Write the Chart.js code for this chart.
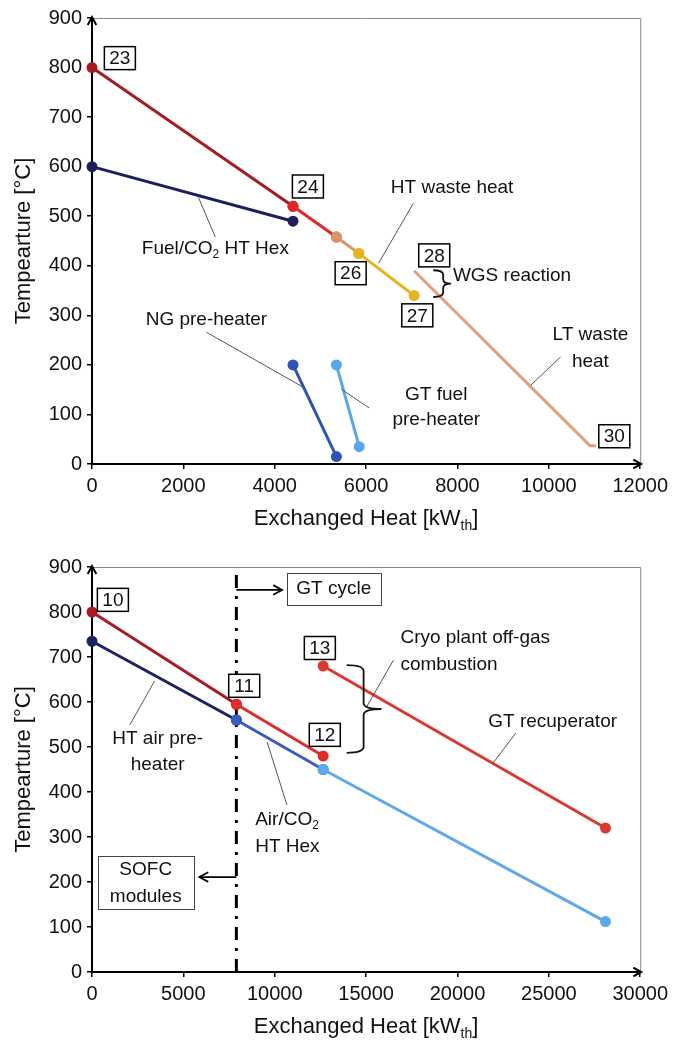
<!DOCTYPE html>
<html>
<head>
<meta charset="utf-8">
<script src="https://cdn.jsdelivr.net/npm/chart.js@4.4.0/dist/chart.umd.min.js"></script>
<style>
  html, body { margin: 0; padding: 0; background: #fff; }
  #wrap { position: relative; width: 673px; height: 1042px; }
  canvas { position: absolute; left: 0; }
  #topChart { top: 0; }
  #botChart { top: 530px; }
</style>
</head>
<body>
<div id="wrap">
  <canvas id="topChart" width="673" height="530"></canvas>
  <canvas id="botChart" width="673" height="512"></canvas>
</div>
<script>
const FONT = "'Liberation Sans', Arial, sans-serif";

// ===== tick labels =====
const tempTicks = [0, 100, 200, 300, 400, 500, 600, 700, 800, 900];
const topHeatTicks = [0, 2000, 4000, 6000, 8000, 10000, 12000];
const botHeatTicks = [0, 5000, 10000, 15000, 20000, 25000, 30000];

// ===== top chart: fuel side streams (heat kWth, temperature °C) =====
// hot stream 23 -> 24 -> 25 -> 26 -> 27
const hotFuelHeat = [0, 4400, 5350, 5840, 7050];
const hotFuelTemp = [800, 520, 458, 425, 340];
const hotFuelColors = ['#a61c20', '#e3262b', '#d8956b', '#e8b220'];
// Fuel/CO2 HT Hex cold side
const fuelHexHeat = [0, 4400];
const fuelHexTemp = [600, 490];
// LT waste heat 28 -> 30
const ltWasteHeat = [7050, 10900, 11030];
const ltWasteTemp = [390, 37, 37];
// NG pre-heater
const ngPreHeat = [4400, 5350];
const ngPreTemp = [200, 15];
// GT fuel pre-heater
const gtFuelHeat = [5350, 5850];
const gtFuelTemp = [200, 35];

// ===== bottom chart: air / cathode side =====
// hot stream 10 -> 11 -> 12
const cathodeHeat = [0, 7900, 12650];
const cathodeTemp = [800, 595, 480];
const cathodeColors = ['#a61c20', '#e02b2b'];
// air / CO2 cold stream
const airHeat = [0, 7900, 12650, 28100];
const airTemp = [735, 560, 450, 112];
const airColors = ['#1c2262', '#3a5cc5', '#5ea8ec'];
// GT recuperator 13 ->
const recupHeat = [12650, 28100];
const recupTemp = [680, 320];
// SOFC / GT cycle boundary
const boundaryHeat = [7900, 7900];
const boundaryTemp = [0, 900];

/** ===== annotation layouts (data coordinates) ===== */
const notes = {
    topChart: {
        xTitle: 'Exchanged Heat [kW_{th}]',
        yTitle: 'Tempearture [°C]',
        boxes: [['23', 610, 819], ['24', 4726, 560], ['26', 5662, 385], ['27', 7121, 300], ['28', 7491, 421], ['30', 11433, 56]],
        labels: [
            ['HT waste heat', 7883, 558, 'center'],
            ['Fuel/CO_{2} HT Hex', 2700, 435, 'center'],
            ['WGS reaction', 7900, 379, 'left'],
            ['LT waste', 10910, 260, 'center'], ['heat', 10910, 206, 'center'],
            ['NG pre-heater', 2504, 292, 'center'],
            ['GT fuel', 7535, 139, 'center'], ['pre-heater', 7535, 89, 'center']
        ],
        leaders: [[7034, 526, 6272, 405], [2700, 458, 2330, 538], [10257, 216, 9604, 159], [2504, 266, 4660, 153], [5459, 151, 6069, 113]],
        braces: [[7470, 7687, 7861, 391, 337]],
        arrows: [],
        frames: []
    },
    botChart: {
        xTitle: 'Exchanged Heat [kW_{th}]',
        yTitle: 'Tempearture [°C]',
        boxes: [['10', 1143, 827], ['11', 8330, 636], ['12', 12740, 527], ['13', 12468, 720]],
        labels: [
            ['Cryo plant off-gas', 16878, 742, 'left'], ['combustion', 16878, 682, 'left'],
            ['GT recuperator', 25208, 556, 'center'],
            ['HT air pre-', 3593, 518, 'center'], ['heater', 3593, 460, 'center'],
            ['Air/CO_{2}', 8929, 338, 'left'], ['HT Hex', 8929, 278, 'left'],
            ['GT cycle', 13230, 851, 'center'],
            ['SOFC', 2940, 227, 'center'], ['modules', 2940, 167, 'center']
        ],
        leaders: [[15027, 589, 16497, 693], [23193, 531, 21941, 464], [2069, 549, 3430, 647], [9582, 511, 10671, 371]],
        braces: [[13938, 14864, 15843, 682, 487]],
        arrows: [[7900, 849, 10400, 849], [7900, 211, 5880, 211]],
        // center x, center y, width px, height px
        frames: [[13230, 851, 94, 32], [2940, 198, 96, 53]]
    }
};

function parseRich(str) {
    return str.split(/_\{([^}]*)\}/).map((t, i) => [t, i % 2 == 1]);
}

function drawRich(ctx, str, x, y, size, align) {
    let parts = parseRich(str);
    let subSize = Math.round(size * 0.62);
    let total = 0;
    for (let [t, sub] of parts) {
        ctx.font = `${sub ? subSize : size}px ${FONT}`;
        total += ctx.measureText(t).width;
    }
    let cx = align == 'left' ? x : align == 'right' ? x - total : x - total / 2;
    ctx.textAlign = 'left';
    ctx.textBaseline = 'middle';
    for (let [t, sub] of parts) {
        ctx.font = `${sub ? subSize : size}px ${FONT}`;
        ctx.fillText(t, cx, sub ? y + size * 0.32 : y);
        cx += ctx.measureText(t).width;
    }
}

function chevron(ctx, x, y, dir, len) {
    // open arrow head, dir = angle in radians the tip points to
    ctx.beginPath();
    ctx.moveTo(x - len * Math.cos(dir - 0.5), y - len * Math.sin(dir - 0.5));
    ctx.lineTo(x, y);
    ctx.lineTo(x - len * Math.cos(dir + 0.5), y - len * Math.sin(dir + 0.5));
    ctx.stroke();
}

const sketchPlugin = {
    id: 'sketch',
    afterDraw(chart) {
        let n = notes[chart.canvas.id];
        if (!n) {
            return;
        }
        let { ctx, chartArea } = chart;
        let sx = chart.scales.x, sy = chart.scales.y;
        const P = (x, y) => [sx.getPixelForValue(x), sy.getPixelForValue(y)];
        ctx.save();

        // thin frame on top and right
        ctx.strokeStyle = '#8a8a8a';
        ctx.lineWidth = 1;
        ctx.beginPath();
        ctx.moveTo(chartArea.left, chartArea.top + 0.5);
        ctx.lineTo(chartArea.right + 0.5, chartArea.top + 0.5);
        ctx.lineTo(chartArea.right + 0.5, chartArea.bottom);
        ctx.stroke();

        // axis arrows
        ctx.strokeStyle = '#000';
        ctx.lineWidth = 2;
        chevron(ctx, chartArea.left, chartArea.top - 1, -Math.PI / 2, 9);
        chevron(ctx, chartArea.right + 1, chartArea.bottom, 0, 9);

        // leader lines
        ctx.strokeStyle = '#555';
        ctx.lineWidth = 1;
        for (let [x1, y1, x2, y2] of n.leaders) {
            let a = P(x1, y1), b = P(x2, y2);
            ctx.beginPath();
            ctx.moveTo(a[0], a[1]);
            ctx.lineTo(b[0], b[1]);
            ctx.stroke();
        }

        // curly braces
        ctx.strokeStyle = '#111';
        ctx.lineWidth = 1.8;
        for (let [xl, xs, xt, yt, yb] of n.braces) {
            let [L, T] = P(xl, yt);
            let [S, B] = P(xs, yb);
            let X = sx.getPixelForValue(xt);
            let M = (T + B) / 2;
            let r = Math.min(6, (B - T) / 6);
            ctx.beginPath();
            ctx.moveTo(L, T);
            ctx.quadraticCurveTo(S, T, S, T + r);
            ctx.lineTo(S, M - r);
            ctx.quadraticCurveTo(S, M, X, M);
            ctx.quadraticCurveTo(S, M, S, M + r);
            ctx.lineTo(S, B - r);
            ctx.quadraticCurveTo(S, B, L, B);
            ctx.stroke();
        }

        // arrows
        ctx.strokeStyle = '#000';
        ctx.lineWidth = 1.8;
        for (let [x1, y1, x2, y2] of n.arrows) {
            let a = P(x1, y1), b = P(x2, y2);
            ctx.beginPath();
            ctx.moveTo(a[0], a[1]);
            ctx.lineTo(b[0], b[1]);
            ctx.stroke();
            chevron(ctx, b[0], b[1], Math.atan2(b[1] - a[1], b[0] - a[0]), 10);
        }

        // framed text blocks
        ctx.strokeStyle = '#444';
        ctx.lineWidth = 1;
        for (let [x, y, w, h] of n.frames) {
            let [cx, cy] = P(x, y);
            ctx.fillStyle = '#fff';
            ctx.fillRect(cx - w / 2, cy - h / 2, w, h);
            ctx.strokeRect(Math.round(cx - w / 2) + 0.5, Math.round(cy - h / 2) + 0.5, w, h);
        }

        // numbered state boxes
        ctx.strokeStyle = '#000';
        ctx.lineWidth = 1.5;
        for (let [t, x, y] of n.boxes) {
            let [cx, cy] = P(x, y);
            let w = 31, h = 23;
            ctx.fillStyle = '#fff';
            ctx.fillRect(cx - w / 2, cy - h / 2, w, h);
            ctx.strokeRect(cx - w / 2, cy - h / 2, w, h);
            ctx.fillStyle = '#111';
            drawRich(ctx, t, cx, cy + 1, 19, 'center');
        }

        // labels
        ctx.fillStyle = '#111';
        for (let [t, x, y, align] of n.labels) {
            let [cx, cy] = P(x, y);
            drawRich(ctx, t, cx, cy, 19, align);
        }

        // axis titles
        drawRich(ctx, n.xTitle, (chartArea.left + chartArea.right) / 2, chartArea.bottom + 55, 22, 'center');
        ctx.save();
        ctx.translate(24, (chartArea.top + chartArea.bottom) / 2);
        ctx.rotate(-Math.PI / 2);
        drawRich(ctx, n.yTitle, 0, 0, 22, 'center');
        ctx.restore();

        ctx.restore();
    }
};

function segmentSets(heat, temp, colors) {
    let sets = [];
    for (let i = 0; i < heat.length - 1; i++) {
        sets.push({
            data: [{ x: heat[i], y: temp[i] }, { x: heat[i + 1], y: temp[i + 1] }],
            borderColor: colors[i],
            backgroundColor: colors[i],
            pointBackgroundColor: colors[i],
            pointBorderColor: colors[i],
            borderWidth: 3,
            pointRadius: 4,
            showLine: true,
            clip: false
        });
    }
    // first dataset is painted last in Chart.js, so put later segments first
    return sets.reverse();
}

function plainLine(heat, temp, color, extra) {
    return Object.assign({
        data: heat.map((h, i) => ({ x: h, y: temp[i] })),
        borderColor: color,
        backgroundColor: color,
        borderWidth: 3,
        pointRadius: 0,
        showLine: true
    }, extra || {});
}

function axisOptions(ticks, max, fit) {
    return {
        type: 'linear',
        min: 0,
        max: max,
        afterBuildTicks: (scale) => { scale.ticks = ticks.map(v => ({ value: v })); },
        afterFit: fit,
        ticks: {
            font: { family: FONT, size: 20 },
            color: '#111',
            padding: 5,
            maxRotation: 0,
            autoSkip: false,
            callback: (value) => String(value)
        },
        grid: { display: true, drawOnChartArea: false, drawTicks: true, tickLength: 5, color: '#000', lineWidth: 1.5 },
        border: { display: true, color: '#000', width: 2 }
    };
}

function buildChart(id, datasets, heatTicks, heatMax, padTop, xHeight) {
    return new Chart(document.getElementById(id), {
        type: 'scatter',
        data: { datasets: datasets },
        options: {
            responsive: false,
            animation: false,
            events: [],
            layout: { padding: { top: padTop, right: 31, left: 0, bottom: 0 } },
            plugins: { legend: { display: false }, tooltip: { enabled: false } },
            scales: {
                x: axisOptions(heatTicks, heatMax, (s) => { s.height = xHeight; }),
                y: axisOptions(tempTicks, 900, (s) => { s.width = 92; })
            }
        },
        plugins: [sketchPlugin]
    });
}

let topSets = [].concat(
    segmentSets(hotFuelHeat, hotFuelTemp, hotFuelColors),
    segmentSets(fuelHexHeat, fuelHexTemp, ['#1b1f5c']),
    segmentSets(ngPreHeat, ngPreTemp, ['#2f52b5']),
    segmentSets(gtFuelHeat, gtFuelTemp, ['#5aa6ea']),
    [plainLine(ltWasteHeat, ltWasteTemp, '#e2a17c')]
);
buildChart('topChart', topSets, topHeatTicks, 12000, 18, 66);

let botSets = [].concat(
    segmentSets(cathodeHeat, cathodeTemp, cathodeColors),
    segmentSets(airHeat, airTemp, airColors),
    segmentSets(recupHeat, recupTemp, ['#da3a2e']),
    [plainLine(boundaryHeat, boundaryTemp, '#000', { borderDash: [13, 8, 3, 8], borderWidth: 3 })]
);
buildChart('botChart', botSets, botHeatTicks, 30000, 37, 70);
</script>
</body>
</html>
